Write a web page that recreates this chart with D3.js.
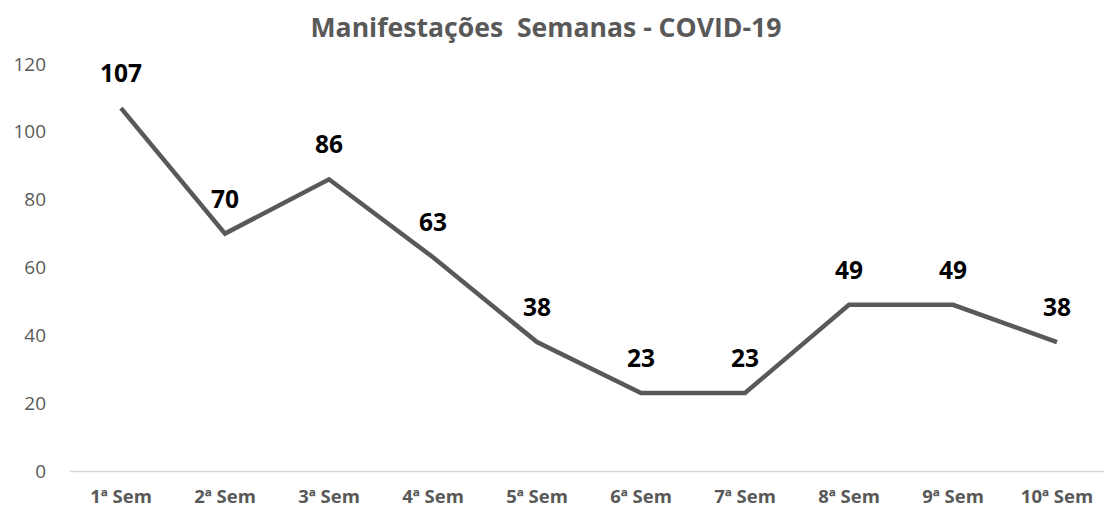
<!DOCTYPE html>
<html><head><meta charset="utf-8">
<script src="https://cdn.jsdelivr.net/npm/d3@7"></script>
<style>body{margin:0;background:#fff;}svg{display:block;}</style>
</head><body>
<script>
const categories = ["1ª Sem","2ª Sem","3ª Sem","4ª Sem","5ª Sem","6ª Sem","7ª Sem","8ª Sem","9ª Sem","10ª Sem"];
const values = [107,70,86,63,38,23,23,49,49,38];
const yTicks = [0,20,40,60,80,100,120];
const title = "Manifestações  Semanas - COVID-19";

const W = 1104, H = 511;
const m = {left:69, right:-5, top:64, bottom:40};
const svg = d3.select("body").append("svg").attr("width",W).attr("height",H);
const font = "'Open Sans', sans-serif";

const x = d3.scaleBand().domain(categories).range([m.left, W - m.right]);
const y = d3.scaleLinear().domain([0,120]).range([471, 64]);

svg.append("text").attr("x",546).attr("y",37).attr("text-anchor","middle")
  .attr("font-family",font).attr("font-weight","bold").attr("font-size",26.6)
  .attr("fill","#595959").style("white-space","pre").text(title);

const yAxis = svg.append("g").attr("transform",`translate(${m.left},0)`)
  .call(d3.axisLeft(y).tickValues(yTicks).tickSize(0).tickPadding(23));
yAxis.select(".domain").remove();
yAxis.selectAll("text").attr("font-family",font).attr("font-size",19).attr("fill","#595959");

const xAxis = svg.append("g").attr("transform",`translate(0,${y(0)})`)
  .call(d3.axisBottom(x).tickSize(0).tickPadding(19));
xAxis.select(".domain").attr("stroke","#d9d9d9").attr("stroke-width",1.5);
xAxis.selectAll("text").attr("font-family",font).attr("font-weight","bold").attr("font-size",18.5).attr("fill","#595959");

const line = d3.line().x((d,i)=>x(categories[i]) + x.bandwidth()/2).y(d=>y(d));
svg.append("path").datum(values).attr("d",line).attr("fill","none")
  .attr("stroke","#595959").attr("stroke-width",4.5).attr("stroke-linejoin","miter");

svg.selectAll(".lbl").data(values).enter().append("text")
  .attr("x",(d,i)=>x(categories[i]) + x.bandwidth()/2)
  .attr("y",d=>y(d) - 26)
  .attr("text-anchor","middle").attr("font-family",font).attr("font-weight","bold")
  .attr("font-size",24.5).attr("fill","#000").text(d=>d);
</script>
</body></html>
